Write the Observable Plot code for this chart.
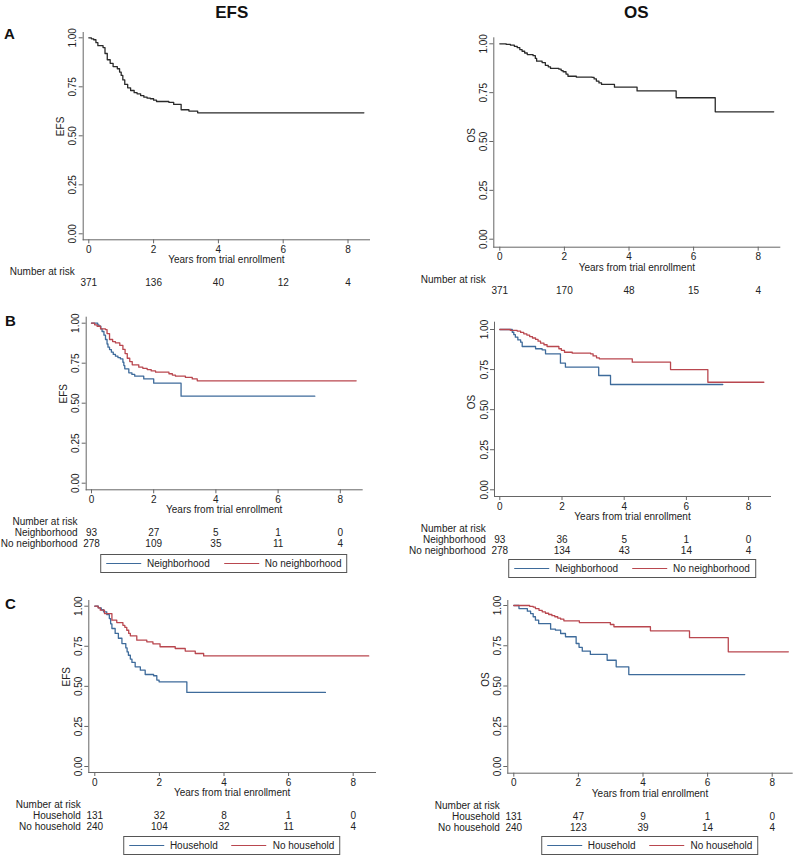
<!DOCTYPE html>
<html><head><meta charset="utf-8">
<script src="https://cdn.jsdelivr.net/npm/d3@7"></script>
<script src="https://cdn.jsdelivr.net/npm/@observablehq/plot@0.6"></script>
<style>
body{margin:0;background:#fff;font-family:"Liberation Sans",Arial,sans-serif;}
#root{position:relative;width:796px;height:857px;overflow:hidden;background:#fff;}
#root svg{position:absolute;max-width:none;}
.title{position:absolute;font-weight:bold;font-size:17px;transform:translate(-50%,-50%);color:#111;}
.letter{position:absolute;font-weight:bold;font-size:15px;transform:translateY(-50%);color:#111;}
.legend{position:absolute;border:1px solid #555;display:flex;align-items:center;height:19px;padding:0 5px;font-size:10px;color:#222;transform:translateX(-50%);white-space:nowrap;box-sizing:border-box;}
.legend .item{display:flex;align-items:center;}
.legend .item + .item{margin-left:14px;}
.legend .sw{display:inline-block;width:35px;height:0;border-top:1.3px solid;margin-right:6px;}
</style></head><body><div id="root"></div>
<script>
// ---------- data ----------
const riskTimes = [0, 2, 4, 6, 8];
const yTicks = [0, 0.25, 0.5, 0.75, 1];
const xLabel = "Years from trial enrollment";
const riskHeader = "Number at risk";

// Panel A: overall
const efsOverall = [[0,1],[0.08,0.995],[0.15,0.99],[0.22,0.975],[0.28,0.96],[0.44,0.95],[0.5,0.92],[0.57,0.888],[0.66,0.87],[0.75,0.853],[0.88,0.842],[0.95,0.825],[1.0,0.808],[1.05,0.785],[1.11,0.762],[1.2,0.745],[1.29,0.731],[1.4,0.72],[1.49,0.714],[1.6,0.705],[1.7,0.697],[1.8,0.692],[1.9,0.689],[2.0,0.682],[2.09,0.675],[2.47,0.671],[2.62,0.66],[2.85,0.633],[3.09,0.626],[3.36,0.617],[8.49,0.617]];
const osOverall = [[0,1],[0.2,0.997],[0.33,0.993],[0.45,0.987],[0.54,0.98],[0.62,0.97],[0.69,0.962],[0.77,0.953],[0.85,0.945],[1.03,0.939],[1.1,0.925],[1.14,0.911],[1.31,0.904],[1.41,0.89],[1.5,0.882],[1.57,0.874],[1.83,0.87],[1.9,0.863],[1.96,0.857],[2.05,0.845],[2.11,0.834],[2.37,0.829],[2.86,0.828],[2.92,0.82],[2.99,0.809],[3.07,0.8],[3.15,0.792],[3.55,0.778],[4.25,0.759],[5.46,0.724],[6.67,0.652],[8.48,0.652]];
const riskEfsOverall = [371, 136, 40, 12, 4];
const riskOsOverall = [371, 170, 48, 15, 4];

// Panel B: neighborhood
const efsNeigh = [[0,1],[0.2,0.99],[0.24,0.981],[0.3,0.965],[0.34,0.948],[0.4,0.925],[0.45,0.898],[0.5,0.87],[0.53,0.85],[0.58,0.835],[0.64,0.819],[0.7,0.805],[0.77,0.794],[0.85,0.785],[0.93,0.777],[1.01,0.756],[1.04,0.735],[1.07,0.715],[1.2,0.69],[1.3,0.68],[1.39,0.669],[1.68,0.652],[2.0,0.625],[2.88,0.544],[7.18,0.544]];
const efsNoNeigh = [[0,1],[0.1,0.99],[0.18,0.981],[0.29,0.965],[0.45,0.96],[0.5,0.935],[0.58,0.898],[0.68,0.885],[0.77,0.877],[0.91,0.861],[1.01,0.836],[1.08,0.81],[1.15,0.781],[1.23,0.76],[1.31,0.74],[1.52,0.725],[1.65,0.718],[1.79,0.71],[1.92,0.702],[2.06,0.694],[2.49,0.684],[2.6,0.676],[2.7,0.669],[3.02,0.661],[3.24,0.652],[3.4,0.64],[8.51,0.64]];
const osNeigh = [[0,1],[0.4,0.983],[0.45,0.968],[0.5,0.952],[0.58,0.935],[0.67,0.921],[0.72,0.894],[1.15,0.88],[1.36,0.873],[1.47,0.848],[1.95,0.79],[2.11,0.765],[3.18,0.713],[3.56,0.657],[7.17,0.657]];
const osNoNeigh = [[0,1],[0.34,0.994],[0.56,0.99],[0.67,0.982],[0.77,0.973],[0.87,0.965],[0.96,0.956],[1.05,0.947],[1.15,0.938],[1.23,0.927],[1.31,0.915],[1.42,0.905],[1.52,0.894],[1.9,0.88],[1.98,0.87],[2.08,0.858],[2.33,0.852],[2.92,0.848],[3.0,0.835],[3.11,0.823],[3.2,0.817],[4.26,0.796],[5.49,0.75],[6.69,0.671],[8.49,0.671]];
const riskEfsNeigh = [93, 27, 5, 1, 0];
const riskEfsNoNeigh = [278, 109, 35, 11, 4];
const riskOsNeigh = [93, 36, 5, 1, 0];
const riskOsNoNeigh = [278, 134, 43, 14, 4];

// Panel C: household
const efsHouse = [[0,1],[0.11,0.99],[0.2,0.978],[0.27,0.965],[0.37,0.948],[0.45,0.923],[0.49,0.89],[0.53,0.861],[0.63,0.83],[0.73,0.8],[0.84,0.767],[0.96,0.74],[1.0,0.715],[1.04,0.694],[1.1,0.67],[1.15,0.649],[1.25,0.622],[1.41,0.601],[1.56,0.574],[1.82,0.566],[1.92,0.539],[1.99,0.528],[2.85,0.462],[7.14,0.462]];
const efsNoHouse = [[0,1],[0.1,0.99],[0.17,0.975],[0.3,0.954],[0.53,0.913],[0.68,0.898],[0.87,0.881],[0.93,0.868],[0.99,0.85],[1.05,0.83],[1.1,0.815],[1.3,0.788],[1.61,0.778],[1.8,0.765],[2.02,0.747],[2.49,0.736],[2.8,0.72],[3.11,0.705],[3.37,0.69],[8.48,0.69]];
const osHouse = [[0,1],[0.16,0.981],[0.42,0.965],[0.52,0.95],[0.6,0.93],[0.67,0.909],[0.77,0.888],[1.14,0.853],[1.29,0.847],[1.45,0.826],[1.6,0.806],[1.93,0.764],[2.02,0.74],[2.12,0.716],[2.37,0.696],[2.89,0.66],[3.17,0.619],[3.56,0.571],[7.15,0.571]];
const osNoHouse = [[0,1],[0.49,0.995],[0.6,0.99],[0.67,0.981],[0.78,0.97],[0.88,0.961],[0.98,0.952],[1.08,0.944],[1.18,0.937],[1.27,0.93],[1.36,0.922],[1.45,0.915],[1.55,0.905],[2.03,0.894],[2.99,0.882],[3.1,0.868],[4.23,0.843],[5.44,0.8],[6.64,0.712],[8.5,0.712]];
const riskEfsHouse = [131, 32, 8, 1, 0];
const riskEfsNoHouse = [240, 104, 32, 11, 4];
const riskOsHouse = [131, 47, 9, 1, 0];
const riskOsNoHouse = [240, 123, 39, 14, 4];

// ---------- styling / layout ----------
const BLACK = "#2a2a2a", BLUE = "#3e6b9b", RED = "#b9474f", AXIS = "#666";
const FONT = "'Liberation Sans', Arial, sans-serif";

const panels = [
  {left:0, width:400, top:25, bottom:302, frame:[82.7,32,369,239.3], x0:88.3, ppy:32.4, y1:37.3, y0:233.3, ylab:"EFS",
   series:[{data:efsOverall, color:BLACK}], rows:[{label:"", values:riskEfsOverall}]},
  {left:400, width:396, top:25, bottom:302, frame:[493.3,37.3,779.3,246.7], x0:499.3, ppy:32.3, y1:43.3, y0:238.7, ylab:"OS",
   series:[{data:osOverall, color:BLACK}], rows:[{label:"", values:riskOsOverall}]},
  {left:0, width:400, top:305, bottom:553, frame:[85.7,316.7,361.7,489.3], x0:91, ppy:31.1, y1:322.7, y0:482.7, ylab:"EFS",
   series:[{data:efsNeigh, color:BLUE, name:"Neighborhood"},{data:efsNoNeigh, color:RED, name:"No neighborhood"}],
   rows:[{label:"Neighborhood", values:riskEfsNeigh},{label:"No neighborhood", values:riskEfsNoNeigh}], legendTop:554},
  {left:400, width:396, top:305, bottom:558, frame:[494,321.7,770,496], x0:499.3, ppy:31.1, y1:329, y0:489.3, ylab:"OS",
   series:[{data:osNeigh, color:BLUE, name:"Neighborhood"},{data:osNoNeigh, color:RED, name:"No neighborhood"}],
   rows:[{label:"Neighborhood", values:riskOsNeigh},{label:"No neighborhood", values:riskOsNoNeigh}], legendTop:559.3},
  {left:0, width:400, top:588, bottom:835, frame:[88.3,600,375,772], x0:94.3, ppy:32.3, y1:605.7, y0:766, ylab:"EFS",
   series:[{data:efsHouse, color:BLUE, name:"Household"},{data:efsNoHouse, color:RED, name:"No household"}],
   rows:[{label:"Household", values:riskEfsHouse},{label:"No household", values:riskEfsNoHouse}], legendTop:836},
  {left:400, width:396, top:588, bottom:835, frame:[507.3,600,791.7,772.7], x0:513.3, ppy:32.3, y1:605, y0:766, ylab:"OS",
   series:[{data:osHouse, color:BLUE, name:"Household"},{data:osNoHouse, color:RED, name:"No household"}],
   rows:[{label:"Household", values:riskOsHouse},{label:"No household", values:riskOsNoHouse}], legendTop:836}
];

const root = document.getElementById("root");

for (const p of panels) {
  const [fl, ft, fr, fb] = p.frame;
  const height = p.bottom - p.top;
  const ppv = p.y0 - p.y1;
  const xDomain = [(fl - p.x0) / p.ppy, (fr - p.x0) / p.ppy];
  const yDomain = [(p.y0 - fb) / ppv, (p.y0 - ft) / ppv];
  const marks = [
    Plot.frame({anchor:"left", stroke:AXIS}),
    Plot.frame({anchor:"bottom", stroke:AXIS}),
    Plot.axisX({ticks:riskTimes, tickSize:4, tickPadding:2, label:null, stroke:AXIS, fill:"#222", fontSize:10}),
    Plot.axisY({ticks:yTicks, tickFormat:d3.format(".2f"), tickRotate:-90, tickSize:4, tickPadding:3, label:null, stroke:AXIS, fill:"#222", fontSize:10}),
    Plot.text([p.ylab], {frameAnchor:"left", dx:-22.5, rotate:-90, fontSize:10, fill:"#222"}),
    Plot.text([xLabel], {frameAnchor:"bottom", dy:23.5, fontSize:10, fill:"#222"}),
    Plot.text([riskHeader], {x:() => riskTimes[0], text:d => d, frameAnchor:"bottom", dy:35.5, dx:-14, textAnchor:"end", fontSize:10, fill:"#222"})
  ];
  for (const s of p.series) {
    marks.push(Plot.line(s.data, {x:d => d[0], y:d => d[1], curve:"step-after", stroke:s.color, strokeWidth:1.3}));
  }
  p.rows.forEach((row, r) => {
    const dy = 46.5 + r * 11;
    marks.push(Plot.text(riskTimes.map((t, i) => ({t, n:row.values[i]})), {x:"t", text:d => String(d.n), frameAnchor:"bottom", dy, fontSize:10, fill:"#222"}));
    if (row.label) marks.push(Plot.text([row.label], {x:() => riskTimes[0], text:d => d, frameAnchor:"bottom", dy, dx:-14, textAnchor:"end", fontSize:10, fill:"#222"}));
  });
  const chart = Plot.plot({
    width:p.width, height,
    marginLeft: fl - p.left, marginRight: p.left + p.width - fr,
    marginTop: ft - p.top, marginBottom: p.top + height - fb,
    x:{domain:xDomain}, y:{domain:yDomain},
    style:{fontFamily:FONT, fontSize:"10px", color:"#222", background:"transparent", overflow:"visible"},
    marks
  });
  chart.style.left = p.left + "px";
  chart.style.top = p.top + "px";
  root.appendChild(chart);

  if (p.legendTop) {
    const lg = document.createElement("div");
    lg.className = "legend";
    lg.style.left = ((fl + fr) / 2) + "px";
    lg.style.top = p.legendTop + "px";
    for (const s of p.series) {
      const it = document.createElement("span");
      it.className = "item";
      const sw = document.createElement("span");
      sw.className = "sw";
      sw.style.borderTopColor = s.color;
      it.appendChild(sw);
      it.appendChild(document.createTextNode(s.name));
      lg.appendChild(it);
    }
    root.appendChild(lg);
  }
}

// titles and panel letters
const addText = (cls, txt, x, y) => {
  const d = document.createElement("div");
  d.className = cls; d.textContent = txt;
  d.style.left = x + "px"; d.style.top = y + "px";
  root.appendChild(d);
};
addText("title", "EFS", 231.7, 12.5);
addText("title", "OS", 636.3, 12.5);
addText("letter", "A", 4, 33);
addText("letter", "B", 5, 320);
addText("letter", "C", 5, 603);
</script></body></html>
